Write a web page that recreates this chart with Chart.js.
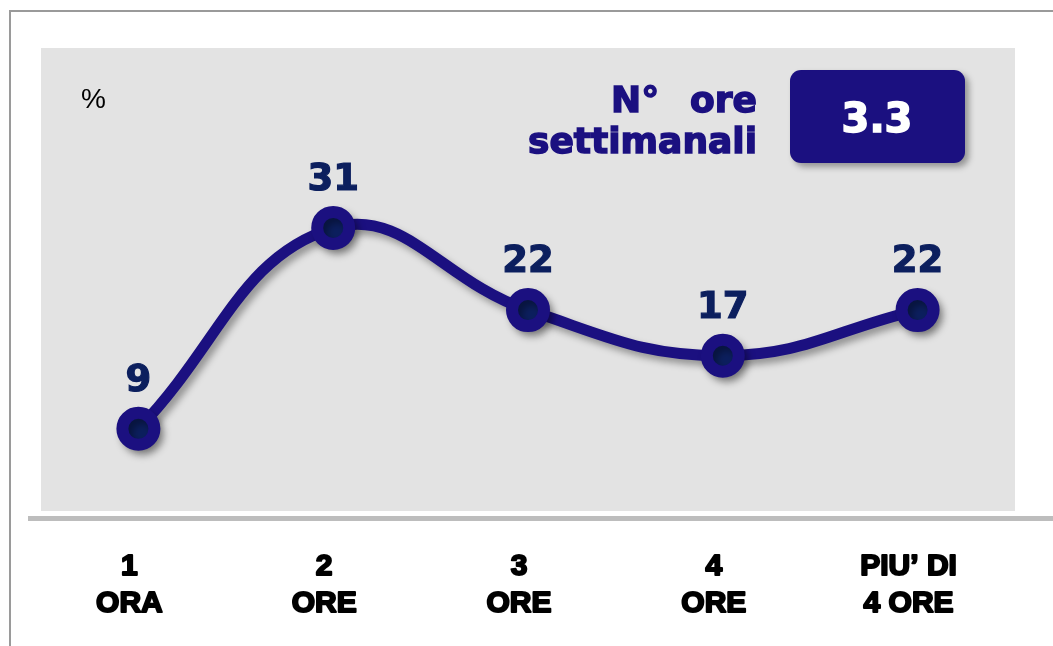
<!DOCTYPE html>
<html>
<head>
<meta charset="utf-8">
<script src="https://cdn.jsdelivr.net/npm/chart.js@4/dist/chart.umd.min.js"></script>
<style>
  html, body { margin: 0; padding: 0; background: #ffffff; }
  #wrap { width: 1053px; height: 646px; }
</style>
</head>
<body>
<div id="wrap"><canvas id="c" width="1053" height="646"></canvas></div>
<script>
// ---- data ----
const categories = [["1", "ORA"], ["2", "ORE"], ["3", "ORE"], ["4", "ORE"], ["PIU\u2019 DI", "4 ORE"]];
const values = [9, 31, 22, 17, 22];
const unitLabel = "%";
const summaryLine1 = ["N\u00B0", "ore"];
const summaryLine2 = "settimanali";
const summaryValue = "3.3";

const LINE = "#1b1080";
const NAVY = "#0c1f5e";

const decor = {
  id: "decor",
  beforeDraw(chart) {
    const ctx = chart.ctx, a = chart.chartArea;
    ctx.save();
    ctx.fillStyle = "#ffffff";
    ctx.fillRect(0, 0, chart.width, chart.height);
    // outer frame
    ctx.strokeStyle = "#9a9a9a";
    ctx.lineWidth = 2;
    ctx.beginPath();
    ctx.moveTo(10, chart.height);
    ctx.lineTo(10, 11);
    ctx.lineTo(chart.width, 11);
    ctx.stroke();
    // plot background
    ctx.fillStyle = "#e3e3e3";
    ctx.fillRect(a.left, a.top, a.right - a.left, a.bottom - a.top);
    // base axis line
    ctx.fillStyle = "#bdbdbd";
    ctx.fillRect(28, 516, chart.width - 28, 5);
    // unit label
    ctx.fillStyle = "#000000";
    ctx.font = "28px 'Liberation Sans', Arial, sans-serif";
    ctx.textAlign = "left";
    ctx.textBaseline = "alphabetic";
    ctx.fillText(unitLabel, 81, 108);
    // summary text
    ctx.fillStyle = LINE;
    ctx.strokeStyle = LINE;
    ctx.lineWidth = 1.5;
    ctx.font = "bold 36px 'DejaVu Sans', sans-serif";
    ctx.textAlign = "right";
    ctx.fillText(summaryLine2, 757, 153);
    ctx.strokeText(summaryLine2, 757, 153);
    ctx.fillText(summaryLine1[1], 757, 112);
    ctx.strokeText(summaryLine1[1], 757, 112);
    ctx.textAlign = "left";
    ctx.fillText(summaryLine1[0], 611, 112);
    ctx.strokeText(summaryLine1[0], 611, 112);
    // value box with shadow
    ctx.shadowColor = "rgba(0,0,0,0.35)";
    ctx.shadowOffsetX = 4;
    ctx.shadowOffsetY = 4;
    ctx.shadowBlur = 6;
    ctx.fillStyle = LINE;
    ctx.beginPath();
    ctx.roundRect(790, 70, 175, 93, 11);
    ctx.fill();
    ctx.shadowColor = "transparent";
    ctx.fillStyle = "#ffffff";
    ctx.strokeStyle = "#ffffff";
    ctx.lineWidth = 1.5;
    ctx.font = "bold 40px 'DejaVu Sans', sans-serif";
    ctx.textAlign = "center";
    ctx.fillText(summaryValue, 877, 132);
    ctx.strokeText(summaryValue, 877, 132);
    ctx.restore();
  },
  beforeDatasetDraw(chart) {
    const ctx = chart.ctx;
    ctx.save();
    ctx.shadowColor = "rgba(0,0,0,0.35)";
    ctx.shadowOffsetX = 4;
    ctx.shadowOffsetY = 5;
    ctx.shadowBlur = 7;
  },
  afterDatasetDraw(chart) {
    chart.ctx.restore();
  },
  afterDatasetsDraw(chart) {
    const ctx = chart.ctx;
    const meta = chart.getDatasetMeta(0);
    const xs = chart.scales.x;
    ctx.save();
    // data labels
    ctx.fillStyle = NAVY;
    ctx.strokeStyle = NAVY;
    ctx.lineWidth = 1.2;
    ctx.font = "bold 37px 'DejaVu Sans', sans-serif";
    ctx.textAlign = "center";
    ctx.textBaseline = "alphabetic";
    meta.data.forEach((pt, i) => {
      const t = String(values[i]);
      ctx.fillText(t, pt.x, pt.y - 38);
      ctx.strokeText(t, pt.x, pt.y - 38);
    });
    // category labels
    ctx.fillStyle = "#000000";
    ctx.strokeStyle = "#000000";
    ctx.lineWidth = 2;
    ctx.lineJoin = "round";
    ctx.font = "bold 30px 'Liberation Sans', Arial, sans-serif";
    categories.forEach((lines, i) => {
      const x = xs.getPixelForValue(i) - 9;
      lines.forEach((ln, j) => {
        const y = 575 + j * 37;
        ctx.fillText(ln, x, y);
        ctx.strokeText(ln, x, y);
      });
    });
    ctx.restore();
  }
};

new Chart(document.getElementById("c"), {
  type: "line",
  data: {
    labels: categories.map(c => c.join(" ")),
    datasets: [{
      data: values,
      borderColor: LINE,
      borderWidth: 11,
      tension: 0.42,
      pointRadius: 16,
      pointBorderWidth: 12,
      pointBackgroundColor: NAVY,
      pointBorderColor: LINE,
      pointHoverRadius: 16,
      clip: false
    }]
  },
  options: {
    responsive: false,
    animation: false,
    events: [],
    layout: { padding: { left: 41, right: 38, top: 48, bottom: 135 } },
    plugins: { legend: { display: false }, tooltip: { enabled: false } },
    scales: {
      x: { display: false, offset: true },
      y: { display: false, min: 0, max: 50.7 }
    }
  },
  plugins: [decor]
});
</script>
</body>
</html>
